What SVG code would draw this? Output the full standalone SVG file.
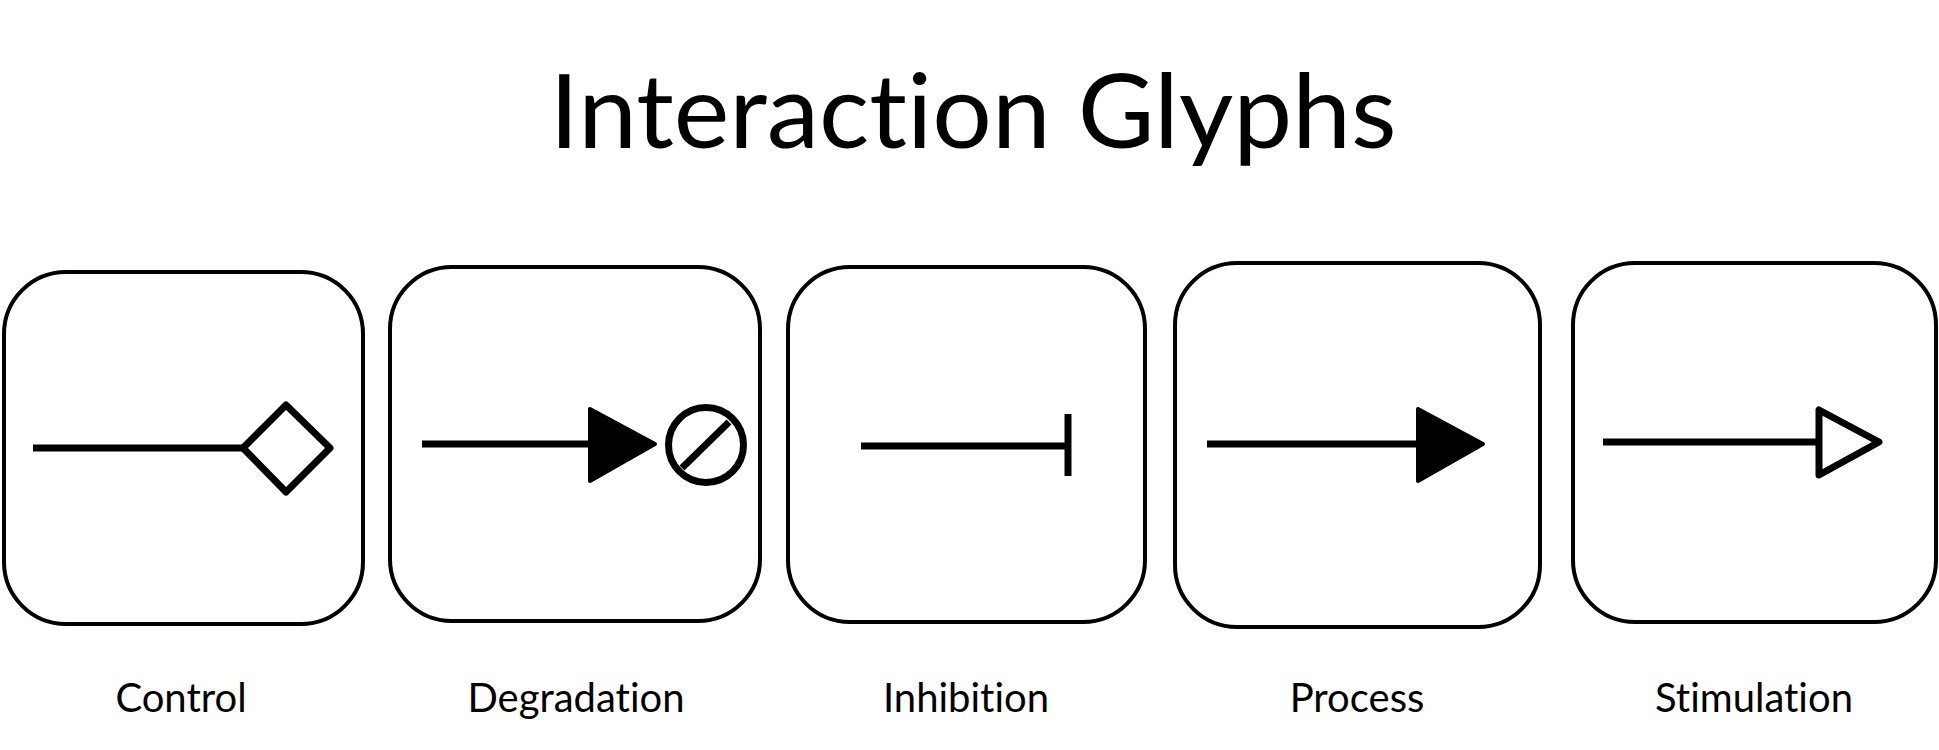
<svg xmlns="http://www.w3.org/2000/svg" width="1939" height="750" viewBox="0 0 1939 750">
<style>
.box{fill:#fff;stroke:#000;stroke-width:4}
.ln{stroke:#000;stroke-width:7;fill:none}
.hd{fill:#000;stroke:#000;stroke-width:4;stroke-linejoin:round}
.ol{fill:#fff;stroke:#000;stroke-width:7;stroke-linejoin:round}
text{font-variant-ligatures:none;font-feature-settings:"liga" 0,"clig" 0,"dlig" 0}
.lbl{font-family:Lato,"Open Sans",sans-serif;font-size:40px;fill:#000;text-anchor:middle}
.ttl{font-family:Lato,"Open Sans",sans-serif;font-size:103px;fill:#000;text-anchor:middle}
</style>
<rect width="1939" height="750" fill="#fff"/>
<text class="ttl" x="973" y="148" textLength="847" lengthAdjust="spacingAndGlyphs">Interaction Glyphs</text>
<g id="control">
<rect class="box" x="4" y="272" width="359" height="352" rx="62"/>
<text class="lbl" x="181" y="712">Control</text>
</g>
<g id="degradation">
<rect class="box" x="390" y="267" width="370" height="354" rx="62"/>
<text class="lbl" x="576" y="712">Degradation</text>
</g>
<g id="inhibition">
<rect class="box" x="788" y="267" width="357" height="355" rx="62"/>
<text class="lbl" x="966" y="712">Inhibition</text>
</g>
<g id="process">
<rect class="box" x="1175" y="263" width="365" height="364" rx="62"/>
<text class="lbl" x="1357" y="712">Process</text>
</g>
<g id="stimulation">
<rect class="box" x="1573" y="263" width="363" height="359" rx="62"/>
<text class="lbl" x="1754" y="712">Stimulation</text>
</g>
<g id="connectors">
<line class="ln" x1="33" y1="448" x2="243" y2="448"/>
<polygon class="ol" points="243,448 286,405 330,448 286,492"/>
<line class="ln" x1="422" y1="444" x2="592" y2="444"/>
<polygon class="hd" points="590,409 590,481 655,444"/>
<circle class="ol" cx="706" cy="445" r="37.5"/>
<line class="ln" x1="682" y1="468" x2="729" y2="422"/>
<line class="ln" x1="861" y1="446" x2="1068" y2="446"/>
<line class="ln" x1="1068" y1="414" x2="1068" y2="476"/>
<line class="ln" x1="1207" y1="444" x2="1420" y2="444"/>
<polygon class="hd" points="1418,409 1418,481 1483,444"/>
<line class="ln" x1="1603" y1="442" x2="1819" y2="442"/>
<polygon class="ol" points="1819,410 1819,475 1879,442"/>
</g>
</svg>
